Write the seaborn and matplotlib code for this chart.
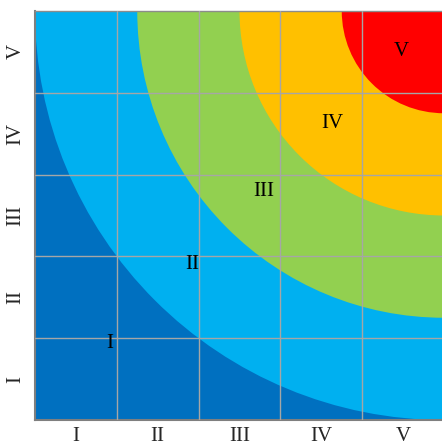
import matplotlib
matplotlib.use("Agg")
import matplotlib.pyplot as plt
import seaborn as sns
from matplotlib.patches import Circle

levels = ["I", "II", "III", "IV", "V"]
zone_colors = ["#0070C0", "#00B0F0", "#92D050", "#FFC000", "#FF0000"]
# outer radius of zones II..V, circles centred on the top-right corner (5, 5)
zone_radii = [5.0, 3.75, 2.5, 1.25]
label_x = [0.91, 1.92, 2.80, 3.63, 4.48]
label_y = [0.93, 1.90, 2.79, 3.62, 4.50]

sns.set_style("white")
plt.rcParams["font.family"] = ["Liberation Serif", "DejaVu Serif"]

fig = plt.figure(figsize=(4.42, 4.48), dpi=100)
ax = fig.add_axes([35 / 442, 28 / 448, 409 / 442, 409 / 448])
ax.set_xlim(0, 5)
ax.set_ylim(0, 5)
ax.set_facecolor(zone_colors[0])

for i, r in enumerate(zone_radii):
    ax.add_patch(Circle((5, 5), r, facecolor=zone_colors[i + 1],
                        edgecolor="none", zorder=1 + i * 0.1))

for lab, x, y in zip(levels, label_x, label_y):
    ax.text(x, y, lab, ha="center", va="center", fontsize=15,
            color="black", zorder=4)

ax.set_xticks([i + 0.5 for i in range(5)])
ax.set_yticks([i + 0.5 for i in range(5)])
ax.set_xticklabels(levels, fontsize=15)
ax.set_yticklabels(levels, fontsize=15, rotation=90, va="center")
ax.set_xticks(range(1, 5), minor=True)
ax.set_yticks(range(1, 5), minor=True)
ax.grid(False, which="major")
ax.grid(True, which="minor", color="#A6A6A6", lw=1.0)
ax.set_axisbelow(False)
ax.tick_params(which="both", length=0)
ax.tick_params(axis="x", pad=5)
ax.tick_params(axis="y", pad=7)
for s in ax.spines.values():
    s.set_color("#8C8C8C")
    s.set_linewidth(1.0)
ax.spines["left"].set_color("#7F7F7F")
ax.spines["bottom"].set_color("#7F7F7F")
ax.spines["left"].set_linewidth(1.5)
ax.spines["bottom"].set_linewidth(1.5)

fig.savefig("out.png", dpi=100)
